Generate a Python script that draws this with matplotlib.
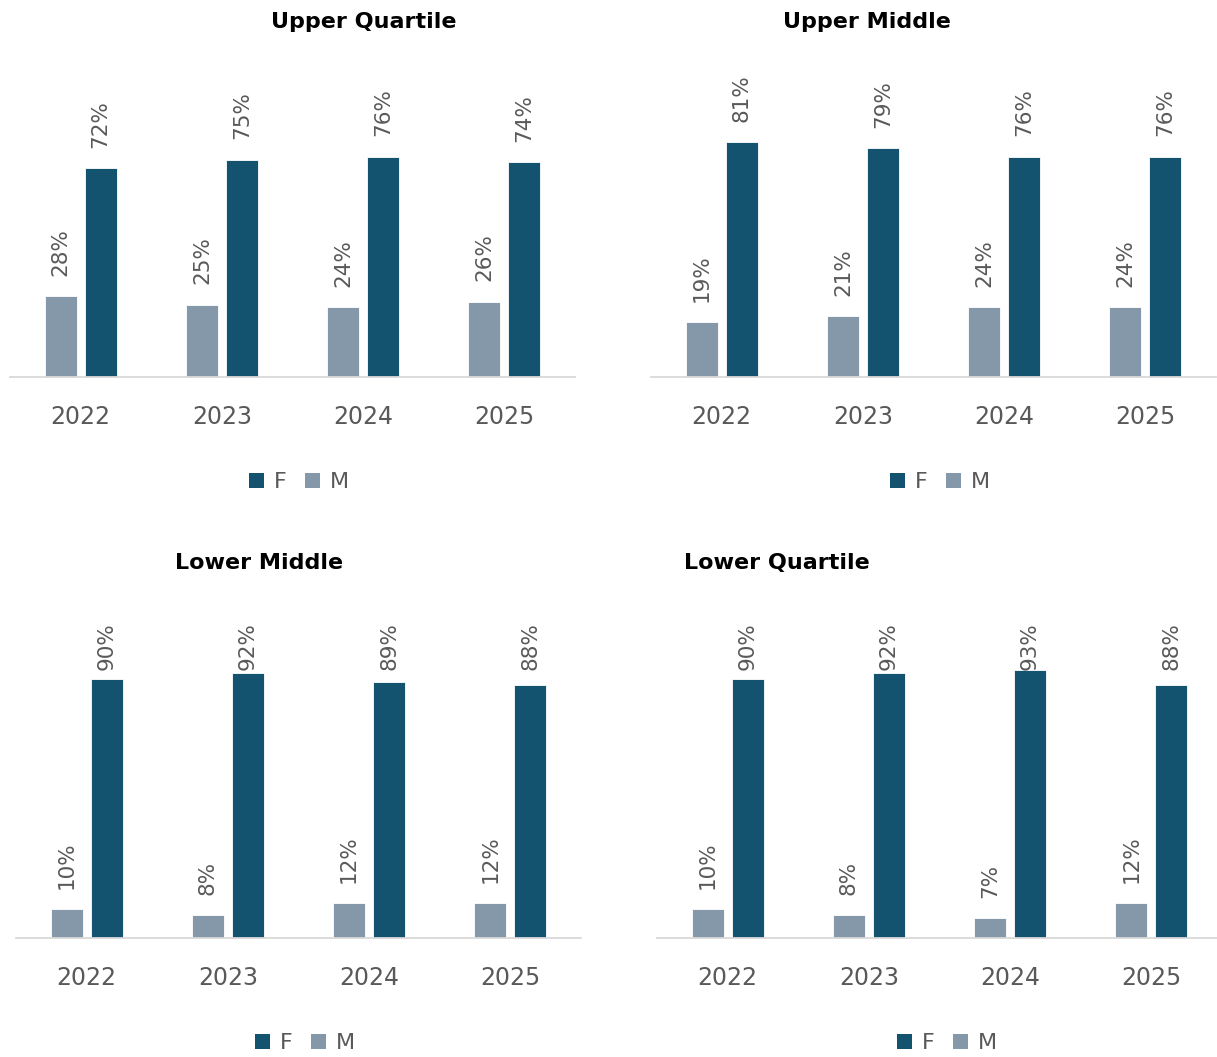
import matplotlib
matplotlib.use("Agg")
import matplotlib.pyplot as plt
from matplotlib.patches import Patch
import numpy as np

years = ["2022", "2023", "2024", "2025"]
titles = ["Upper Quartile", "Upper Middle", "Lower Middle", "Lower Quartile"]
m_uq = [28, 25, 24, 26]
f_uq = [72, 75, 76, 74]
m_um = [19, 21, 24, 24]
f_um = [81, 79, 76, 76]
m_lm = [10, 8, 12, 12]
f_lm = [90, 92, 89, 88]
m_lq = [10, 8, 7, 12]
f_lq = [90, 92, 93, 88]

F_COLOR = "#14536f"
M_COLOR = "#8598a9"
TXT = "#595959"

W, H = 1217, 1057
fig = plt.figure(figsize=(W / 100, H / 100), dpi=100)


def fx(px):
    return px / W


def fy(py):
    return 1 - py / H


# (left px, baseline px, px per %, title x, title y, legend x, legend y, label cap)
panels = [
    (10, 377, 2.9, 364, 22, 299, 482, m_uq, f_uq, None),
    (651, 377, 2.9, 867, 22, 940, 482, m_um, f_um, None),
    (16, 938, 2.88, 259, 563, 305, 1043, m_lm, f_lm, 93.0),
    (657, 938, 2.88, 777, 563, 947, 1043, m_lq, f_lq, 93.0),
]

axw = 565
x = np.arange(len(years))
bw = 0.226
off = 0.1415

for (left, base, ppp, tx, ty, lx, ly, mv, fv, cap), title in zip(panels, titles):
    hpx = 100 * ppp
    ax = fig.add_axes([fx(left), fy(base), fx(axw), hpx / H])
    ax.set_xlim(-0.5, 3.5)
    ax.set_ylim(0, 100)
    ax.bar(x - off, mv, bw, color=M_COLOR, edgecolor="white", linewidth=0.6)
    ax.bar(x + off, fv, bw, color=F_COLOR, edgecolor="white", linewidth=0.6)
    for xs, vals in ((x - off, mv), (x + off, fv)):
        for xi, v in zip(xs, vals):
            yy = v + 7
            if cap is not None:
                yy = min(yy, cap)
            ax.text(xi, yy, f"{v}%", rotation=90, ha="center", va="bottom",
                    fontsize=15.5, color=TXT, clip_on=False)
    for s in ["top", "right", "left"]:
        ax.spines[s].set_visible(False)
    ax.spines["bottom"].set_color("#d9d9d9")
    ax.spines["bottom"].set_linewidth(1.3)
    ax.set_yticks([])
    ax.set_xticks(x)
    ax.set_xticklabels(years, fontsize=17, color=TXT)
    ax.tick_params(axis="x", length=0, pad=20)
    fig.text(fx(tx), fy(ty), title, ha="center", va="center",
             fontsize=16, fontweight="bold", color="black")
    handles = [Patch(facecolor=F_COLOR, label="F"), Patch(facecolor=M_COLOR, label="M")]
    fig.legend(handles=handles, loc="center", bbox_to_anchor=(fx(lx), fy(ly)),
               ncol=2, frameon=False, fontsize=16, labelcolor=TXT,
               handlelength=0.68, handleheight=0.68, handletextpad=0.45,
               columnspacing=0.8, borderpad=0)

fig.savefig("out.png", dpi=100, facecolor="white")
